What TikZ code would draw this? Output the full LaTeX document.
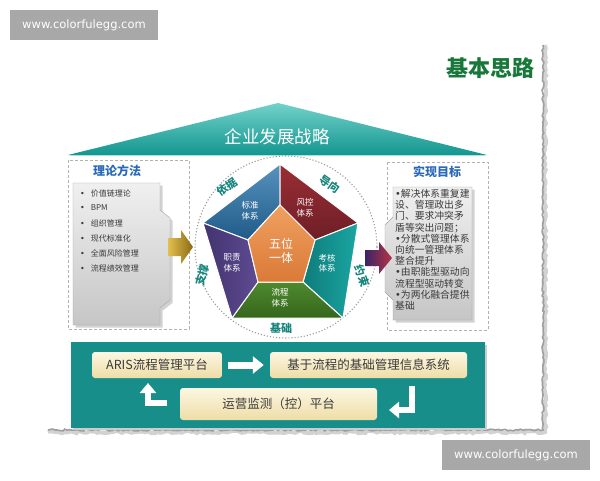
\documentclass[tikz,border=0pt]{standalone}
\usepackage{fontspec}
\setmainfont{Noto Sans CJK SC}
\newfontfamily\wmfont{DejaVu Sans}
\newcommand\mybul{{\wmfont •}}
\usetikzlibrary{arrows.meta,decorations.pathmorphing,shadows,calc}
\definecolor{roofA}{HTML}{72D2CA}
\definecolor{roofB}{HTML}{139690}
\definecolor{panelc}{HTML}{178E8A}
\definecolor{titlegreen}{HTML}{17783A}
\definecolor{headblue}{HTML}{2A6AB8}
\definecolor{labteal}{HTML}{17857C}
\definecolor{segblue}{HTML}{2E78AE}
\definecolor{segblueB}{HTML}{1F5A88}
\definecolor{segred}{HTML}{9A2E35}
\definecolor{segredB}{HTML}{6E1E26}
\definecolor{segteal}{HTML}{1AA6A2}
\definecolor{segtealB}{HTML}{0F7C7A}
\definecolor{seggreen}{HTML}{4F8A2E}
\definecolor{seggreenB}{HTML}{35661C}
\definecolor{segpurple}{HTML}{5E4B92}
\definecolor{segpurpleB}{HTML}{43336F}
\definecolor{segorange}{HTML}{F0A060}
\definecolor{segorangeB}{HTML}{DA7A38}
\definecolor{creamA}{HTML}{FCF7E2}
\definecolor{creamB}{HTML}{EEDDA6}
\definecolor{wmgray}{HTML}{A8A8A8}
\definecolor{goldA}{HTML}{E2C050}
\definecolor{goldB}{HTML}{8A6A14}
\definecolor{arrA}{HTML}{3A2468}
\definecolor{arrB}{HTML}{B83444}
\definecolor{txtdark}{HTML}{3A3A3A}
\begin{document}
\begin{tikzpicture}[x=1pt,y=-1pt,
  wmbox/.style={fill=wmgray,text=white,minimum width=148pt,minimum height=30pt,inner sep=0pt,font=\wmfont\fontsize{11.5}{13}\selectfont},
  dashbox/.style={draw=gray!60,densely dashed,line width=0.6pt},
  grayshape/.style={top color=gray!12,bottom color=gray!45,draw=gray!70,line width=0.4pt,drop shadow={opacity=0.35}},
  headtext/.style={text=headblue,font=\bfseries\fontsize{12}{14}\selectfont},
  segtext/.style={text=white,align=center,inner sep=0.5pt,font=\fontsize{8.5}{10.5}\selectfont},
  circlab/.style={text=labteal,inner sep=0pt,font=\bfseries\fontsize{11}{12}\selectfont},
  creambox/.style={rounded corners=3pt,top color=creamA,bottom color=creamB,inner sep=0pt,text=txtdark,font=\fontsize{12.5}{14}\selectfont},
  whitearrow/.style={white,line width=7pt,-{Triangle[length=11pt,width=17pt]}},
  bullettext/.style={text=txtdark,font=\fontsize{8}{9}\selectfont,anchor=west,inner sep=0pt}
]
\useasboundingbox (0,0) rectangle (600,480);
\fill[white] (0,0) rectangle (600,480);

% torn paper edge
\draw[gray!35,line width=4pt,decorate,decoration={random steps,segment length=3pt,amplitude=1.2pt}] (545,45) -- (545,432) -- (48,432);
\draw[gray!75,line width=1.6pt,decorate,decoration={random steps,segment length=2.5pt,amplitude=1pt}] (543,45) -- (543,430) -- (48,430);

% watermarks
\node[wmbox] (wm1) at (84,25) {www.colorfulegg.com};
\node[wmbox] (wm2) at (516,455) {www.colorfulegg.com};

% title
\node[text=titlegreen,font=\bfseries\fontsize{22}{24}\selectfont] (title) at (490,68) {基本思路};

% roof
\path[top color=roofA,bottom color=roofB] (68,155) -- (278,103) -- (487,155) -- cycle;
\draw[roofA!60,line width=0.6pt] (70,155) -- (485,155);
\node[text=white,font=\fontsize{17.5}{20}\selectfont] (strategy) at (277,137) {企业发展战略};

% left box
\draw[dashbox] (68,160) rectangle (189,329);
\node[headtext] (theory) at (117,171) {理论方法};
\path[grayshape] (73,183) -- (160,183) -- (160,210) -- (170,218) -- (170,300) -- (160,308) -- (160,325) -- (73,325) -- cycle;
\foreach \t [count=\i] in {价值链理论,BPM,组织管理,现代标准化,全面风险管理,流程绩效管理}{
  \node[bullettext] (b\i) at (80,{178+15*\i}) {\mybul\hspace{6pt}\t};
}

% right box
\draw[dashbox] (387,162) rectangle (488,330);
\node[headtext] (goal) at (437,172) {实现目标};
\path[grayshape] (393,187) -- (472,187) -- (472,320) -- (393,320) -- (393,300) -- (385,292) -- (385,225) -- (393,217) -- cycle;
\node[text=txtdark,align=left,anchor=north west,inner sep=0pt,font=\fontsize{9.8}{11.2}\selectfont] (goaltext) at (395,189) {\mybul 解决体系重复建\\设、管理政出多\\门、要求冲突矛\\盾等突出问题；\\\mybul 分散式管理体系\\向统一管理体系\\整合提升\\\mybul 由职能型驱动向\\流程型驱动转变\\\mybul 为两化融合提供\\基础};

% dotted circle
\draw[gray!80,dotted,line width=1.1pt] (286,247) circle (91);

% pentagon
\coordinate (T) at (280,164);
\coordinate (R) at (358,223);
\coordinate (BR) at (343,318);
\coordinate (BL) at (232,318);
\coordinate (L) at (203,223);
\coordinate (t) at (280,205);
\coordinate (r) at (315,240);
\coordinate (br) at (303,282);
\coordinate (bl) at (258,282);
\coordinate (l) at (248,240);
\path[top color=segblue!80!white,bottom color=segblueB,draw=white,line width=1pt] (L) -- (T) -- (t) -- (l) -- cycle;
\path[top color=segred,bottom color=segredB,draw=white,line width=1pt] (T) -- (R) -- (r) -- (t) -- cycle;
\path[left color=segtealB,right color=segteal,draw=white,line width=1pt] (R) -- (BR) -- (br) -- (r) -- cycle;
\path[top color=seggreen,bottom color=seggreenB,draw=white,line width=1pt] (BR) -- (BL) -- (bl) -- (br) -- cycle;
\path[left color=segpurpleB,right color=segpurple,draw=white,line width=1pt] (BL) -- (L) -- (l) -- (bl) -- cycle;
\path[top color=segorange,bottom color=segorangeB,draw=white,line width=1pt] (t) -- (r) -- (br) -- (bl) -- (l) -- cycle;
\node[segtext] (std) at (250,211) {标准\\体系};
\node[segtext] (risk) at (305,208) {风控\\体系};
\node[segtext] (eval) at (327,263) {考核\\体系};
\node[segtext] (proc) at (280,298) {流程\\体系};
\node[segtext] (duty) at (232,263) {职责\\体系};
\node[text=white,align=center,font=\fontsize{12}{14}\selectfont] (five) at (281,251) {五位\\一体};

% circle labels
\node[circlab,rotate=35] (basis) at (227,187) {依据};
\node[circlab,rotate=-35] (guide) at (330,184) {导向};
\node[circlab,rotate=-72] (restrict) at (362,276) {约束};
\node[circlab,rotate=75] (support) at (202,275) {支撑};
\node[circlab] (found) at (281,328) {基础};

% arrows into/out of the circle
\path[left color=goldA,right color=goldB] (168,238) -- (181,238) -- (181,230) -- (193,247) -- (181,264) -- (181,256) -- (168,256) -- cycle;
\path[left color=arrA,right color=arrB] (365,250) -- (379,250) -- (379,242) -- (392,258) -- (379,274) -- (379,266) -- (365,266) -- cycle;

% bottom panel
\fill[gray!40] (73,345) rectangle (487,430);
\fill[panelc] (71,342) rectangle (485,428);
\node[creambox,minimum width=130pt,minimum height=26pt] (aris) at (157,365) {ARIS流程管理平台};
\node[creambox,minimum width=197pt,minimum height=26pt] (info) at (368.5,365) {基于流程的基础管理信息系统};
\node[creambox,minimum width=197pt,minimum height=32pt] (ops) at (278.5,404) {运营监测（控）平台};
\draw[whitearrow] ($(aris.east)+(6,0)$) -- ($(info.west)+(-6,0)$);
\coordinate (la1) at (167,403);
\coordinate (la2) at (148,383);
\draw[white,line width=6pt,-{Triangle[length=10pt,width=16pt]}] (la1) -| (la2);
\coordinate (ra1) at (411.5,386);
\coordinate (ra2) at (389,410);
\draw[white,line width=6pt,-{Triangle[length=10pt,width=16pt]}] (ra1) |- (ra2);
\end{tikzpicture}
\end{document}
